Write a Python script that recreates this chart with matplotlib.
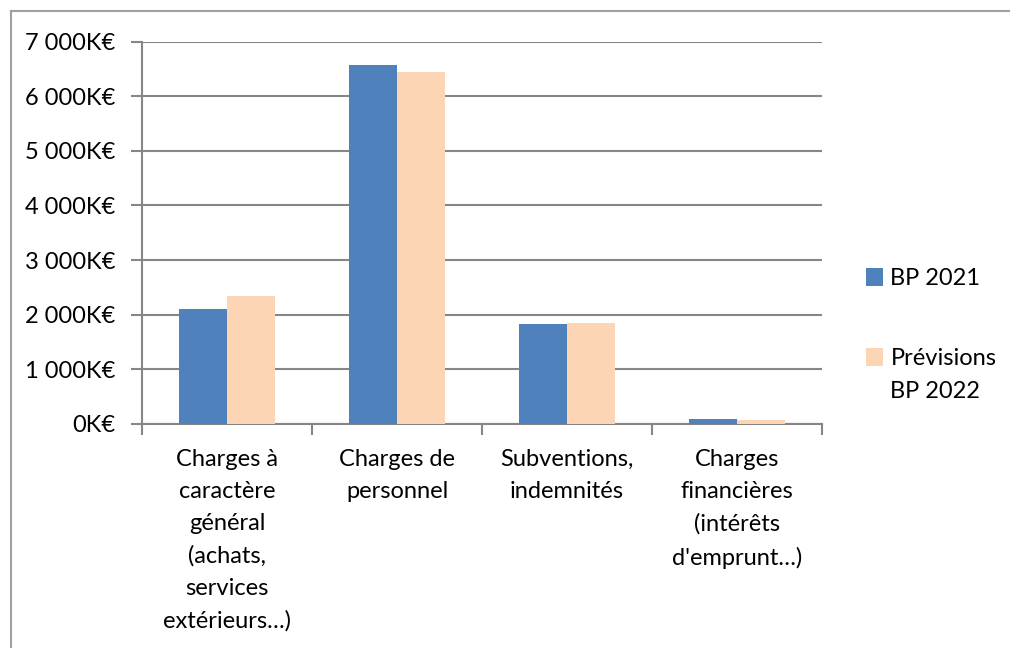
import numpy as np
import matplotlib.pyplot as plt
from matplotlib.lines import Line2D
from matplotlib.ticker import FuncFormatter

categories = ['Charges à\ncaractère\ngénéral\n(achats,\nservices\nextérieurs…)',
              'Charges de\npersonnel',
              'Subventions,\nindemnités',
              'Charges\nfinancières\n(intérêts\nd\'emprunt…)']
bp_2021 = [2095, 6570, 1825, 80]
prev_2022 = [2340, 6445, 1850, 62]
series_names = ['BP 2021', 'Prévisions\nBP 2022']

plt.rcParams['font.family'] = ['Lato', 'DejaVu Sans']
grey = '#868686'

fig = plt.figure(figsize=(10.1, 6.48), dpi=100)
ax = fig.add_axes([0.1406, 0.3461, 0.6733, 0.5895])

x = np.arange(len(categories))
w = 0.285
ax.bar(x - w / 2, bp_2021, w, color='#4F81BD', label=series_names[0], zorder=3)
ax.bar(x + w / 2, prev_2022, w, color='#FCD5B5', label=series_names[1], zorder=3)

ax.set_xlim(-0.5, len(categories) - 0.5)
ax.set_ylim(0, 7000)
ax.set_yticks(range(0, 7001, 1000))
ax.yaxis.set_major_formatter(FuncFormatter(lambda v, p: f'{int(v):,}'.replace(',', ' ') + 'K€'))
ax.yaxis.grid(True, color=grey, linewidth=1.5, zorder=0)
ax.set_axisbelow(True)

# category labels centred, ticks at the boundaries
ax.set_xticks(x)
ax.set_xticklabels(categories, linespacing=1.65)
ax.set_xticks(np.arange(-0.5, len(categories)), minor=True)
ax.tick_params(axis='x', which='major', length=0, pad=18, labelsize=17)
ax.tick_params(axis='x', which='minor', length=8, width=1.5, color=grey)
ax.tick_params(axis='y', length=8, width=1.5, color=grey, pad=11, labelsize=17)

for s in ['top', 'right']:
    ax.spines[s].set_visible(False)
for s in ['left', 'bottom']:
    ax.spines[s].set_color(grey)
    ax.spines[s].set_linewidth(1.5)

leg = fig.legend(loc='upper left', bbox_to_anchor=(0.836, 0.6185), frameon=False,
                 fontsize=17, handlelength=0.75, handleheight=0.75, handletextpad=0.3,
                 labelspacing=2.5)
for t in leg.get_texts():
    t.set_linespacing(1.65)
# put the square next to the first line of each label
for col in leg._legend_handle_box.get_children():
    for row in col.get_children():
        row.align = 'top'

# outer frame (top and left edges visible)
fig.add_artist(Line2D([0.011, 1.0], [0.983, 0.983], color='#A0A0A0', linewidth=1.5, transform=fig.transFigure))
fig.add_artist(Line2D([0.011, 0.011], [0.0, 0.983], color='#A0A0A0', linewidth=1.5, transform=fig.transFigure))

plt.savefig('out.png', dpi=100)
